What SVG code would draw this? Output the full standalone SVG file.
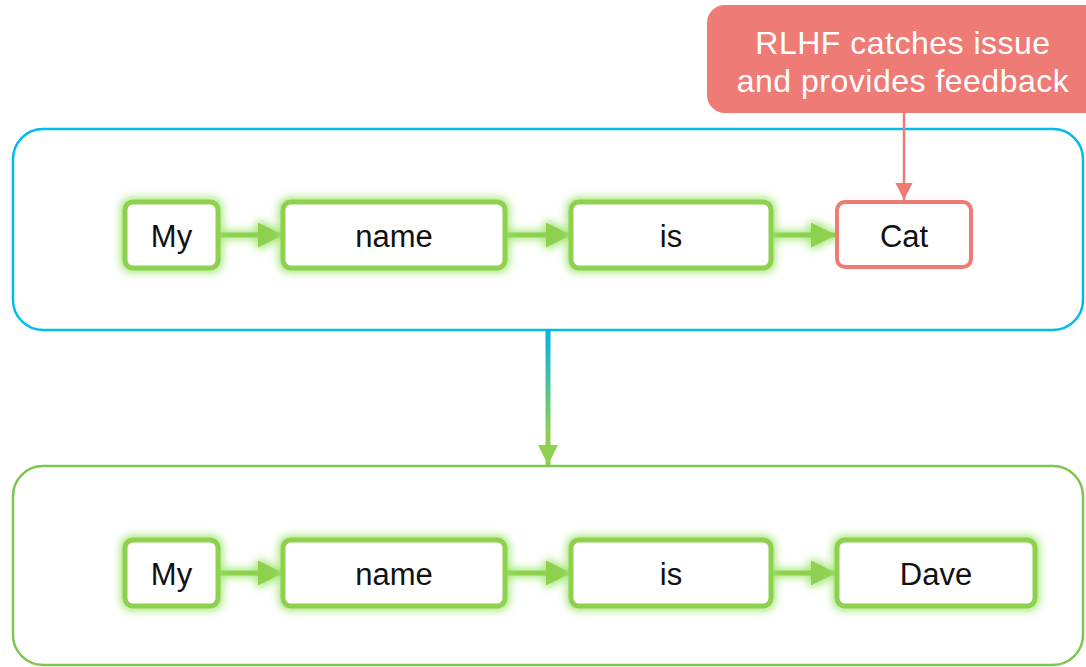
<svg xmlns="http://www.w3.org/2000/svg" width="1086" height="667" viewBox="0 0 1086 667">
<style>
.box{fill:#fff;stroke:#8ed150;stroke-width:5}
.bad{fill:#fff;stroke:#ef7b76;stroke-width:4}
.lbl{font-family:"Liberation Sans",Arial,sans-serif;font-size:31px;fill:#111;text-anchor:middle;dominant-baseline:central}
.call{font-family:"Liberation Sans",Arial,sans-serif;font-size:32px;fill:#fff;text-anchor:middle;letter-spacing:0.5px}
.conn{stroke:#8ed150;stroke-width:5;fill:none}
</style>
<defs>
<filter id="glow" x="-30%" y="-40%" width="160%" height="180%">
<feMorphology in="SourceAlpha" operator="dilate" radius="2" result="d"/>
<feGaussianBlur in="d" stdDeviation="4" result="b"/>
<feFlood flood-color="#9be36a" flood-opacity="0.9"/>
<feComposite in2="b" operator="in" result="g"/>
<feMerge><feMergeNode in="g"/><feMergeNode in="SourceGraphic"/></feMerge>
</filter>
<filter id="glowc" filterUnits="userSpaceOnUse" x="0" y="0" width="1086" height="667">
<feMorphology in="SourceAlpha" operator="dilate" radius="2" result="d"/>
<feGaussianBlur in="d" stdDeviation="4" result="b"/>
<feFlood flood-color="#9be36a" flood-opacity="0.9"/>
<feComposite in2="b" operator="in" result="g"/>
<feMerge><feMergeNode in="g"/><feMergeNode in="SourceGraphic"/></feMerge>
</filter>
<marker id="ag" viewBox="0 0 10 10" refX="10" refY="5" markerWidth="5" markerHeight="5" markerUnits="strokeWidth" orient="auto"><path d="M0,0L10,5L0,10z" fill="#8ed150"/></marker>
<marker id="ar" viewBox="0 0 10 10" refX="10" refY="5" markerWidth="7" markerHeight="7" markerUnits="strokeWidth" orient="auto"><path d="M0,0L10,5L0,10z" fill="#ef7b76"/></marker>
<marker id="av" viewBox="0 0 10 10" refX="10" refY="5" markerWidth="4" markerHeight="4" markerUnits="strokeWidth" orient="auto"><path d="M0,0L10,5L0,10z" fill="#8ed150"/></marker>
<linearGradient id="vg" x1="0" y1="330" x2="0" y2="466" gradientUnits="userSpaceOnUse"><stop offset="0" stop-color="#00b4ea"/><stop offset="0.75" stop-color="#8ed150"/></linearGradient>
</defs>
<g id="top-container"><rect x="13" y="129" width="1070" height="201" rx="30" fill="#fff" stroke="#00bceb" stroke-width="2.5"/></g>
<g id="bottom-container"><rect x="13" y="466" width="1070" height="199" rx="30" fill="#fff" stroke="#7cc652" stroke-width="2.5"/></g>
<g id="connectors">
<g filter="url(#glowc)">
<path class="conn" d="M218,235H283" marker-end="url(#ag)"/>
<path class="conn" d="M505,235H571" marker-end="url(#ag)"/>
<path class="conn" d="M771,235H836" marker-end="url(#ag)"/>
<path class="conn" d="M218,573H283" marker-end="url(#ag)"/>
<path class="conn" d="M505,573H571" marker-end="url(#ag)"/>
<path class="conn" d="M771,573H836" marker-end="url(#ag)"/>
</g>
<path d="M904,113V200" stroke="#ef7b76" stroke-width="2.5" fill="none" marker-end="url(#ar)"/>
<path d="M548,331V465" stroke="url(#vg)" stroke-width="5" fill="none" marker-end="url(#av)"/>
</g>
<g id="callout"><rect x="707" y="5" width="395" height="108" rx="18" fill="#ef7b76"/>
<text class="call" x="903" y="54">RLHF catches issue</text>
<text class="call" x="903" y="92">and provides feedback</text></g>
<g id="t-my"><rect class="box" filter="url(#glow)" x="125" y="202" width="93" height="66" rx="8"/><text class="lbl" x="171.5" y="236">My</text></g>
<g id="t-name"><rect class="box" filter="url(#glow)" x="283" y="202" width="222" height="66" rx="8"/><text class="lbl" x="394" y="236">name</text></g>
<g id="t-is"><rect class="box" filter="url(#glow)" x="571" y="202" width="200" height="66" rx="8"/><text class="lbl" x="671" y="236">is</text></g>
<g id="t-cat"><rect class="bad" x="837" y="202" width="134" height="65" rx="8"/><text class="lbl" x="904" y="236">Cat</text></g>
<g id="b-my"><rect class="box" filter="url(#glow)" x="125" y="540" width="93" height="66" rx="8"/><text class="lbl" x="171.5" y="574">My</text></g>
<g id="b-name"><rect class="box" filter="url(#glow)" x="283" y="540" width="222" height="66" rx="8"/><text class="lbl" x="394" y="574">name</text></g>
<g id="b-is"><rect class="box" filter="url(#glow)" x="571" y="540" width="200" height="66" rx="8"/><text class="lbl" x="671" y="574">is</text></g>
<g id="b-dave"><rect class="box" filter="url(#glow)" x="837" y="540" width="198" height="66" rx="8"/><text class="lbl" x="936" y="574">Dave</text></g>
</svg>
